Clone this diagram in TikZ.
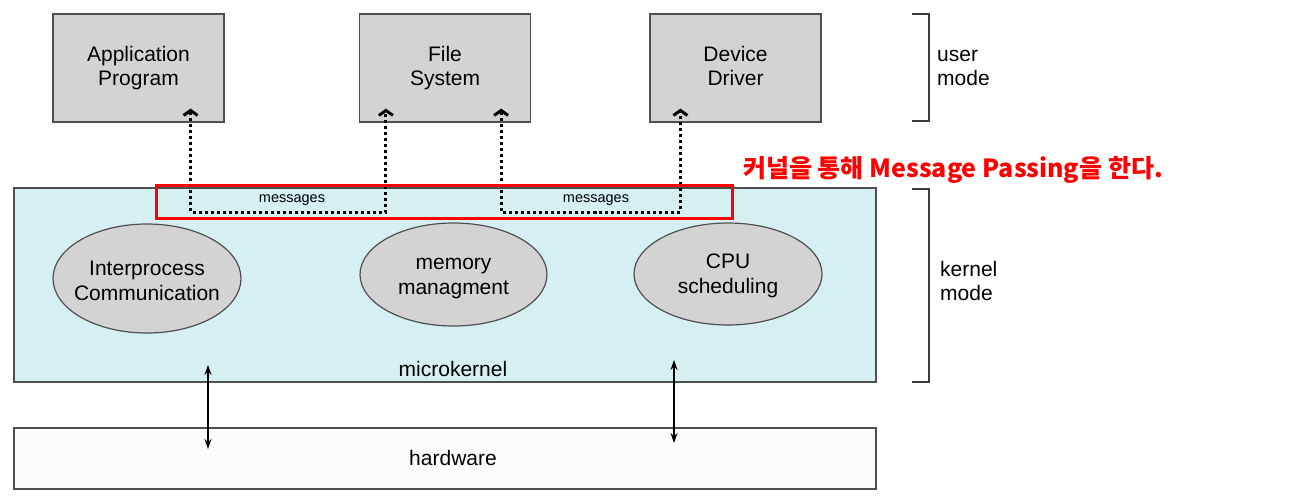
\documentclass[tikz,border=0pt]{standalone}
\usepackage{fontspec}
\setmainfont{Liberation Sans}
\newfontfamily\kr{Noto Sans CJK KR}
\usepackage{xcolor}
\usepackage{tikz}
\usetikzlibrary{positioning,arrows.meta,calc,shapes.geometric}
\definecolor{boxg}{HTML}{D3D3D3}
\definecolor{kern}{HTML}{D6EFF3}
\definecolor{hwc}{HTML}{FCFCFC}
\definecolor{edge}{HTML}{4F4F4F}
\definecolor{brkc}{HTML}{3A3A3A}
\definecolor{hot}{HTML}{FF0000}
\tikzset{
  svc/.style={draw=edge, fill=boxg, line width=1.2pt, align=center, inner sep=0pt,
              minimum width=171pt, minimum height=108pt, font=\fontsize{21}{24.5}\selectfont},
  lay/.style={draw=edge, line width=1.2pt, inner sep=0pt, minimum width=862pt},
  func/.style={ellipse, draw=edge, fill=boxg, line width=1.2pt, inner sep=0pt},
  ftxt/.style={align=center, inner sep=0pt, font=\fontsize{21}{25}\selectfont},
  msg/.style={line width=3pt, dash pattern=on 3pt off 3pt, color=black,
              {Straight Barb[length=5pt,width=14pt,line width=3pt]}-{Straight Barb[length=5pt,width=14pt,line width=3pt]}},
  biarr/.style={line width=1.2pt, {Stealth[length=10pt,width=7pt]}-{Stealth[length=10pt,width=7pt]}},
  brk/.style={draw=brkc, line width=1.6pt},
  side/.style={align=left, anchor=west, inner sep=0pt, font=\fontsize{21}{24.5}\selectfont},
  lbl/.style={font=\fontsize{21}{24}\selectfont, inner sep=0pt},
}

\begin{document}
\begin{tikzpicture}[x=1pt, y=-1pt]
  \useasboundingbox (0,0) rectangle (1297,498);

  % user mode servers
  \node[svc] (app) at (138.5,68) {Application\\Program};
  \node[svc] (fs)  at (445,68)   {File\\System};
  \node[svc] (dd)  at (735.5,68) {Device\\Driver\vphantom{g}};

  % kernel and hardware layers
  \node[lay, fill=kern, minimum height=194pt] (kernel) at (445,285) {};
  \node[lay, fill=hwc, minimum height=61pt] (hw) at (445,458.5) {};
  \node[lbl] (mk) at (453,369) {microkernel};
  \node[lbl] (hwl) at (453,458) {hardware};

  % kernel functions
  \node[func, minimum width=188pt, minimum height=109pt] (ipc) at (147,278.5) {};
  \node[func, minimum width=187pt, minimum height=103pt] (mem) at (453.5,274.5) {};
  \node[func, minimum width=188pt, minimum height=102pt] (cpu) at (728,274) {};
  \node[ftxt] (ipctxt) at (147,281) {Interprocess\\Communication};
  \node[ftxt] (memtxt) at (453.5,279) {memory\\managment};
  \node[ftxt] (cputxt) at (728,276) {CPU\\scheduling};

  % message passing through the kernel
  \node[font=\fontsize{14.5}{16}\selectfont, inner sep=0pt] (msgA) at (292,200) {messages};
  \node[font=\fontsize{14.5}{16}\selectfont, inner sep=0pt] (msgB) at (596,200) {messages};
  \coordinate (m1) at (292,212);
  \coordinate (m2) at (596,212);
  \draw[msg] ([shift={(-34,-14)}]app.south east) |- (m1) -| ([shift={(27,-14)}]fs.south west);
  \draw[msg] ([shift={(-30,-14)}]fs.south east) |- (m2) -| ([shift={(31,-14)}]dd.south west);
  \node[draw=hot, line width=3pt, minimum width=576pt, minimum height=33pt, inner sep=0pt]
        (msgbox) at (444,201.5) {};
  \node[text=hot, font=\kr\bfseries\fontsize{25}{27}\selectfont, inner sep=0pt]
        (note) at (953,170) {커널을 통해 Message Passing을 한다.};

  % kernel <-> hardware
  \coordinate (k1) at (208,365);
  \coordinate (h1) at (208,449);
  \coordinate (k2) at (674,360);
  \coordinate (h2) at (674,443);
  \draw[biarr] (k1) -- (h1);
  \draw[biarr] (k2) -- (h2);

  % mode brackets
  \draw[brk] (912,14) -- (929,14) -- (929,121) -- (912,121);
  \draw[brk] (912,189) -- (929,189) -- (929,382) -- (912,382);
  \node[side] (um) at (937,68) {user\\mode};
  \node[side] (km) at (940,281) {kernel\\mode};
\end{tikzpicture}
\end{document}
